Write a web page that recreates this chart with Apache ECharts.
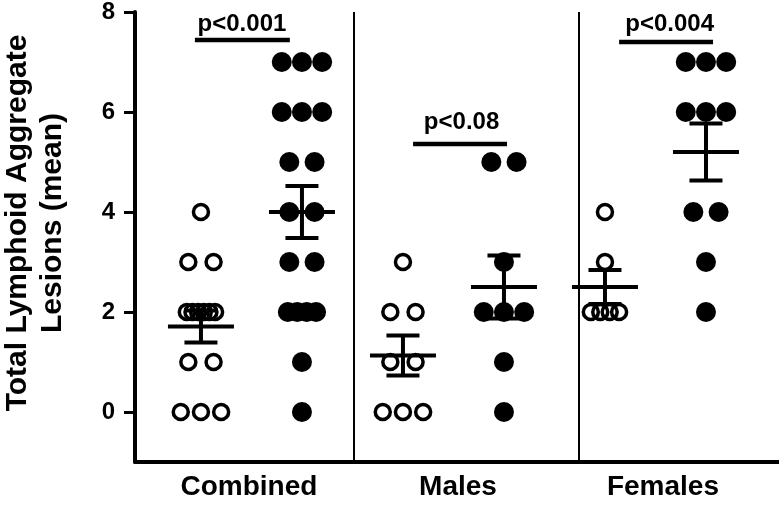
<!DOCTYPE html>
<html>
<head>
<meta charset="utf-8">
<script src="https://cdn.jsdelivr.net/npm/echarts@6/dist/echarts.min.js"></script>
<style>
html,body{margin:0;padding:0;background:#fff;}
#chart{width:779px;height:511px;}
</style>
</head>
<body>
<div id="chart"></div>
<script>
// ---- data ----
const groups = ['Combined', 'Males', 'Females'];
const yTicks = [0, 2, 4, 6, 8];
const pLabels = ['p<0.001', 'p<0.08', 'p<0.004'];

// individual lesion counts (open = control, filled = treated)
const combinedOpen   = [4, 3, 3, 2, 2, 2, 2, 2, 2, 1, 1, 0, 0, 0];
const combinedFilled = [7, 7, 7, 6, 6, 6, 5, 5, 4, 4, 3, 3, 2, 2, 2, 2, 1, 0];
const malesOpen      = [3, 2, 2, 1, 1, 0, 0, 0];
const malesFilled    = [5, 5, 3, 2, 2, 2, 1, 0];
const femalesOpen    = [4, 3, 2, 2, 2, 2];
const femalesFilled  = [7, 7, 7, 6, 6, 6, 4, 4, 3, 2];

// mean and SEM per group
const meanOpen   = [1.71, 1.13, 2.5];
const semOpen    = [0.32, 0.40, 0.34];
const meanFilled = [4.0, 2.5, 5.2];
const semFilled  = [0.52, 0.63, 0.57];

// ---- layout (not data) ----
const layout = {
  xMin: -0.653, xMax: 5.723,
  labelX: [0.475, 2.545, 4.574],
  dividers: [1.515, 3.743],
  pText: [[0.406, 7.76], [2.58, 5.79], [4.64, 7.76]],
  pBar: [[-0.06, 0.88, 7.44], [2.10, 3.03, 5.36], [4.14, 5.07, 7.40]]
};
const FONT = '"Liberation Sans", Arial, Helvetica, sans-serif';

function offsets(n) {
  if (n === 1) return [0];
  if (n === 2) return [-0.125, 0.125];
  if (n === 3) return [-0.2, 0, 0.2];
  const span = 0.28, out = [];
  for (let i = 0; i < n; i++) out.push(-span / 2 + span * i / (n - 1));
  return out;
}
function swarm(values, center) {
  const counts = {};
  values.forEach(v => { counts[v] = (counts[v] || 0) + 1; });
  const used = {};
  return values.map(v => {
    const offs = offsets(counts[v]);
    const k = used[v] || 0; used[v] = k + 1;
    return [center + offs[k], v];
  });
}
const openSets = [combinedOpen, malesOpen, femalesOpen];
const filledSets = [combinedFilled, malesFilled, femalesFilled];
let openData = [], filledData = [];
openSets.forEach((arr, g) => { openData = openData.concat(swarm(arr, 2 * g)); });
filledSets.forEach((arr, g) => { filledData = filledData.concat(swarm(arr, 2 * g + 1)); });

const errData = [];
groups.forEach((_, g) => {
  errData.push([2 * g, meanOpen[g], semOpen[g]]);
  errData.push([2 * g + 1, meanFilled[g], semFilled[g]]);
});
const annData = pLabels.map((t, i) => [layout.pBar[i][0], layout.pBar[i][1], layout.pBar[i][2], layout.pText[i][0], layout.pText[i][1], i]);

const chart = echarts.init(document.getElementById('chart'));
chart.setOption({
  animation: false,
  backgroundColor: '#fff',
  grid: { left: 135, right: 0, top: 12, bottom: 49, containLabel: false, outerBoundsMode: 'none' },
  xAxis: {
    type: 'value', min: layout.xMin, max: layout.xMax,
    splitLine: { show: false },
    axisTick: { show: false },
    axisLine: { show: true, onZero: false, lineStyle: { color: '#000', width: 4 } },
    axisLabel: {
      customValues: layout.labelX,
      formatter: v => { const i = layout.labelX.findIndex(x => Math.abs(x - v) < 1e-6); return i >= 0 ? groups[i] : ''; },
      color: '#000', fontFamily: FONT, fontWeight: 'bold', fontSize: 28, margin: 11
    }
  },
  yAxis: {
    type: 'value', min: -1, max: 8,
    splitLine: { show: false },
    axisLine: { show: true, onZero: false, lineStyle: { color: '#000', width: 4 } },
    axisTick: { show: true, customValues: yTicks, length: 11, lineStyle: { color: '#000', width: 3 } },
    axisLabel: { customValues: yTicks, color: '#000', fontFamily: FONT, fontWeight: 'bold', fontSize: 24, margin: 20 }
  },
  graphic: [{
    type: 'text', x: 35, y: 223, rotation: Math.PI / 2,
    style: {
      text: 'Total Lymphoid Aggregate\nLesions (mean)',
      x: 0, y: 0, align: 'center', verticalAlign: 'middle',
      font: 'bold 30px ' + FONT, lineHeight: 35, fill: '#000'
    }
  }],
  series: [
    {
      type: 'scatter', name: 'open', data: openData, z: 3,
      symbol: 'circle', symbolSize: 15,
      itemStyle: { color: 'rgba(255,255,255,0)', borderColor: '#000', borderWidth: 3.5, opacity: 1 },
      markLine: {
        silent: true, symbol: 'none', label: { show: false },
        lineStyle: { color: '#000', width: 2, type: 'solid' },
        data: layout.dividers.map(x => ({ xAxis: x }))
      }
    },
    {
      type: 'scatter', name: 'filled', data: filledData, z: 3,
      symbol: 'circle', symbolSize: 20,
      itemStyle: { color: '#000', borderWidth: 0, opacity: 1 }
    },
    {
      type: 'custom', name: 'meanSem', data: errData, z: 5,
      renderItem: (params, api) => {
        const x = api.value(0), m = api.value(1), s = api.value(2);
        const c = api.coord([x, m]);
        const t = api.coord([x, m + s]);
        const b = api.coord([x, m - s]);
        const st = { stroke: '#000', lineWidth: 4, lineCap: 'butt' };
        return {
          type: 'group',
          children: [
            { type: 'line', shape: { x1: c[0] - 33, y1: c[1], x2: c[0] + 33, y2: c[1] }, style: st },
            { type: 'line', shape: { x1: c[0], y1: t[1], x2: c[0], y2: b[1] }, style: st },
            { type: 'line', shape: { x1: c[0] - 16.5, y1: t[1], x2: c[0] + 16.5, y2: t[1] }, style: st },
            { type: 'line', shape: { x1: c[0] - 16.5, y1: b[1], x2: c[0] + 16.5, y2: b[1] }, style: st }
          ]
        };
      }
    },
    {
      type: 'custom', name: 'pvalues', data: annData, z: 6,
      renderItem: (params, api) => {
        const a = api.coord([api.value(0), api.value(2)]);
        const b = api.coord([api.value(1), api.value(2)]);
        const tp = api.coord([api.value(3), api.value(4)]);
        return {
          type: 'group',
          children: [
            { type: 'line', shape: { x1: a[0], y1: a[1], x2: b[0], y2: b[1] }, style: { stroke: '#000', lineWidth: 4.5 } },
            { type: 'text', x: tp[0], y: tp[1], style: { text: pLabels[api.value(5)], align: 'center', verticalAlign: 'middle', font: 'bold 24px ' + FONT, fill: '#000' } }
          ]
        };
      }
    }
  ]
});
</script>
</body>
</html>
